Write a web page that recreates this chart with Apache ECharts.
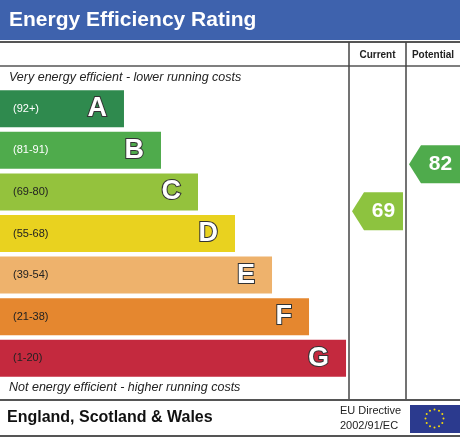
<!DOCTYPE html>
<html><head><meta charset="utf-8">
<script src="https://cdn.jsdelivr.net/npm/echarts@6/dist/echarts.min.js"></script>
<style>html,body{margin:0;padding:0;background:#fff}#c{width:460px;height:437px}</style>
</head><body><div id="c"></div>
<script>
var bands = ['A','B','C','D','E','F','G']
var ranges = ['(92+)','(81-91)','(69-80)','(55-68)','(39-54)','(21-38)','(1-20)']
var barLength = [3.35,4.35,5.35,6.35,7.35,8.35,9.35]
var colors = ['#2f8a4e','#4fab4c','#94c23d','#e9d21f','#eeb26c','#e5872f','#c4293e']
var rangeColors = ['#fff','#fff','#222','#222','#222','#222','#222']
var currentScore = 69
var potentialScore = 82
var font = 'Liberation Sans, Arial, sans-serif'

var chart = echarts.init(document.getElementById('c'))

function arrow(x0, x1, color) {
  return function (params, api) {
    var y = api.coord([0, api.value(0)])[1]
    var h = 19
    return {
      type: 'group', children: [
        { type: 'polygon', shape: { points: [[x0, y], [x0 + 12, y - h], [x1, y - h], [x1, y + h], [x0 + 12, y + h]] }, style: { fill: color } },
        { type: 'text', style: { text: String(api.value(0)), x: (x0 + 12 + x1) / 2, y: y, align: 'center', verticalAlign: 'middle', fill: '#fff', font: 'bold 21px ' + font } }
      ]
    }
  }
}

var stars = []
for (var i = 0; i < 12; i++) {
  var a = i * Math.PI / 6
  stars.push({ type: 'circle', shape: { cx: 434.5 + 9 * Math.cos(a), cy: 418.5 + 9 * Math.sin(a), r: 1 }, style: { fill: '#f5d90a' } })
}

chart.setOption({
  animation: false,
  grid: { left: 0, top: 88, width: 349, height: 291 },
  xAxis: [{ type: 'value', min: 0, max: 9.43, show: false }],
  yAxis: [
    { type: 'category', data: bands, inverse: true, show: false },
    { type: 'value', min: 22.6, max: 103.1, show: false }
  ],
  series: [
    {
      type: 'bar', barWidth: 37, yAxisIndex: 0,
      data: barLength.map(function (v, i) {
        return { value: v, itemStyle: { color: colors[i] },
          label: { color: rangeColors[i] } }
      }),
      label: { show: true, position: 'insideLeft', offset: [8, 0], formatter: function (p) { return ranges[p.dataIndex] }, fontSize: 11, fontFamily: font }
    },
    {
      type: 'bar', barWidth: 37, barGap: '-100%', yAxisIndex: 0,
      data: barLength, itemStyle: { color: 'transparent' },
      label: { show: true, position: 'insideRight', offset: [-12, 0], formatter: function (p) { return bands[p.dataIndex] }, color: '#fff', fontSize: 27, fontWeight: 'bold', fontFamily: font, textBorderColor: '#333', textBorderWidth: 2 }
    },
    { type: 'custom', yAxisIndex: 1, data: [[currentScore]], renderItem: arrow(352, 403, '#8dc33f'), z: 5 },
    { type: 'custom', yAxisIndex: 1, data: [[potentialScore]], renderItem: arrow(409, 460, '#4fab4c'), z: 5 }
  ],
  graphic: [
    { type: 'rect', shape: { x: 0, y: 0, width: 460, height: 40 }, style: { fill: '#3e62ad' } },
    { type: 'text', style: { text: 'Energy Efficiency Rating', x: 9, y: 20, verticalAlign: 'middle', fill: '#fff', font: 'bold 21px ' + font } },
    { type: 'line', shape: { x1: 0, y1: 42, x2: 460, y2: 42 }, style: { stroke: '#555', lineWidth: 2 } },
    { type: 'line', shape: { x1: 0, y1: 66, x2: 460, y2: 66 }, style: { stroke: '#555', lineWidth: 1.5 } },
    { type: 'line', shape: { x1: 349, y1: 42, x2: 349, y2: 400 }, style: { stroke: '#444', lineWidth: 1.5 } },
    { type: 'line', shape: { x1: 406, y1: 42, x2: 406, y2: 400 }, style: { stroke: '#444', lineWidth: 1.5 } },
    { type: 'text', style: { text: 'Current', x: 377.5, y: 55, align: 'center', verticalAlign: 'middle', fill: '#222', font: 'bold 10px ' + font } },
    { type: 'text', style: { text: 'Potential', x: 433, y: 55, align: 'center', verticalAlign: 'middle', fill: '#222', font: 'bold 10px ' + font } },
    { type: 'text', style: { text: 'Very energy efficient - lower running costs', x: 9, y: 78, verticalAlign: 'middle', fill: '#222', font: 'italic 12.5px ' + font } },
    { type: 'text', style: { text: 'Not energy efficient - higher running costs', x: 9, y: 388, verticalAlign: 'middle', fill: '#222', font: 'italic 12.5px ' + font } },
    { type: 'line', shape: { x1: 0, y1: 400, x2: 460, y2: 400 }, style: { stroke: '#555', lineWidth: 2 } },
    { type: 'text', style: { text: 'England, Scotland & Wales', x: 7, y: 418, verticalAlign: 'middle', fill: '#111', font: 'bold 16px ' + font } },
    { type: 'text', style: { text: 'EU Directive', x: 340, y: 411, verticalAlign: 'middle', fill: '#222', font: '11px ' + font } },
    { type: 'text', style: { text: '2002/91/EC', x: 340, y: 426, verticalAlign: 'middle', fill: '#222', font: '11px ' + font } },
    { type: 'rect', shape: { x: 410, y: 405, width: 50, height: 28 }, style: { fill: '#2b3a8e' } },
    { type: 'group', children: stars },
    { type: 'line', shape: { x1: 0, y1: 436, x2: 460, y2: 436 }, style: { stroke: '#555', lineWidth: 2 } }
  ]
})
</script></body></html>
